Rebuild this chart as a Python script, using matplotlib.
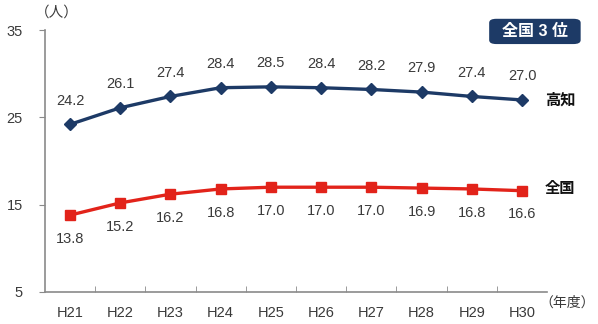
import matplotlib
matplotlib.use("Agg")
import matplotlib.pyplot as plt
from matplotlib.patches import FancyBboxPatch
import numpy as np

plt.rcParams["font.family"] = ["Liberation Sans", "Noto Sans CJK JP"]

years = ["H21", "H22", "H23", "H24", "H25", "H26", "H27", "H28", "H29", "H30"]
kochi = [24.2, 26.1, 27.4, 28.4, 28.5, 28.4, 28.2, 27.9, 27.4, 27.0]
national = [13.8, 15.2, 16.2, 16.8, 17.0, 17.0, 17.0, 16.9, 16.8, 16.6]
y_ticks = [5, 15, 25, 35]

NAVY = "#1d3a66"
RED = "#e2231a"
AXIS = "#8a8a8a"
TEXT = "#3a3a3a"

fig = plt.figure(figsize=(5.98, 3.24), dpi=100)
ax = fig.add_axes([0.075, 0.099, 0.840, 0.808])

x = np.arange(len(years))
ax.plot(x, kochi, color=NAVY, lw=2.4, marker="D", ms=6.5, zorder=3)
ax.plot(x, national, color=RED, lw=2.4, marker="s", ms=7.5, zorder=3)

for xi, v in zip(x, kochi):
    ax.annotate(f"{v:.1f}", (xi, v), xytext=(0, 12), textcoords="offset points",
                ha="center", va="bottom", fontsize=10.5, color=TEXT)
for xi, v in zip(x, national):
    ax.annotate(f"{v:.1f}", (xi, v), xytext=(0, -12), textcoords="offset points",
                ha="center", va="top", fontsize=10.5, color=TEXT)

ax.set_xlim(-0.5, len(years) - 0.5)
ax.set_ylim(5, 35)
ax.set_yticks(y_ticks)
ax.set_xticks(x)
ax.set_xticklabels(years)
ax.set_xticks(np.arange(0.5, len(years) - 0.5, 1.0), minor=True)
ax.tick_params(axis="x", which="major", length=0, pad=10, labelsize=10.5,
               labelcolor=TEXT)
ax.tick_params(axis="x", which="minor", direction="in", length=4, color=AXIS)
ax.tick_params(axis="y", direction="out", length=4, color=AXIS, pad=12,
               labelsize=10.5, labelcolor=TEXT)

for side in ("top", "right"):
    ax.spines[side].set_visible(False)
for side in ("left", "bottom"):
    ax.spines[side].set_color(AXIS)
    ax.spines[side].set_linewidth(1.2)

# series names at line ends
ax.text(9.45, kochi[-1], "高知", fontsize=11, fontweight="bold",
        color="#111111", va="center", clip_on=False)
ax.text(9.45, national[-1] + 0.2, "全国", fontsize=11, fontweight="bold",
        color="#111111", va="center", clip_on=False)

# unit labels
fig.text(0.058, 0.962, "（人）", fontsize=10.5, color=TEXT, ha="left",
         va="center")
fig.text(0.995, 0.065, "（年度）", fontsize=10, color=TEXT, ha="right",
         va="center")

# rank badge
badge = FancyBboxPatch((0.822, 0.868), 0.145, 0.07,
                       boxstyle="round,pad=0.004,rounding_size=0.012",
                       transform=fig.transFigure, facecolor=NAVY,
                       edgecolor="none")
fig.patches.append(badge)
fig.text(0.894, 0.903, "全国 3 位", fontsize=11.5, fontweight="bold",
         color="white", ha="center", va="center")

fig.savefig("out.png", dpi=100)
